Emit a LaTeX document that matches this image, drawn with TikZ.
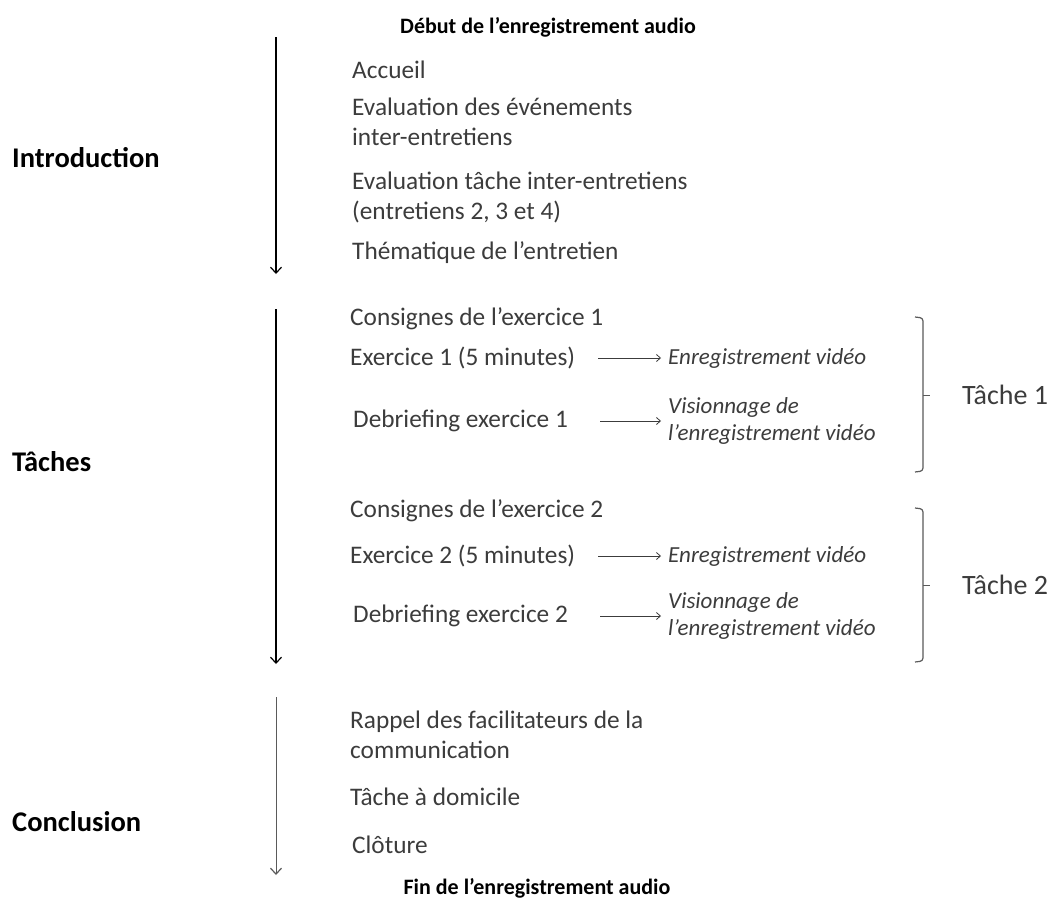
\documentclass[tikz,border=0pt]{standalone}
\usepackage{fontspec}
\setmainfont{Carlito}
\usetikzlibrary{arrows.meta}
\definecolor{txt}{RGB}{60,60,60}
\definecolor{brk}{RGB}{90,90,90}
\begin{document}
\begin{tikzpicture}[x=1pt,y=-1pt,
  body/.style={anchor=west,inner sep=0pt,text=txt,align=left,font=\fontsize{25.3}{30}\selectfont},
  vid/.style={anchor=west,inner sep=0pt,text=txt,align=left,font=\fontsize{23}{27}\selectfont\itshape},
  section/.style={anchor=west,inner sep=0pt,text=black,font=\fontsize{28.5}{32}\selectfont\bfseries},
  audio/.style={inner sep=0pt,text=black,font=\fontsize{22}{26}\selectfont\bfseries},
  tache/.style={anchor=west,inner sep=0pt,text=txt,font=\fontsize{28}{32}\selectfont},
  timeline/.style={line width=1.4pt,draw=black,-{Straight Barb[length=6pt,width=11pt,line width=1.2pt]}},
  harrow/.style={line width=0.9pt,draw=txt,-{Straight Barb[length=4pt,width=7pt,line width=0.8pt]}},
  bracket/.style={line width=1.2pt,draw=brk,rounded corners=3pt}]
\useasboundingbox[fill=white] (0,0) rectangle (1054,900);

% audio markers
\node[audio] (debut) at (548,27) {Début de l’enregistrement audio};
\node[audio] (fin) at (537,888) {Fin de l’enregistrement audio};

% section labels
\node[section] (intro) at (12,158) {Introduction};
\node[section] (taches) at (12,462) {Tâches};
\node[section] (concl) at (12,822) {Conclusion};

% timeline arrows
\coordinate (a1s) at (276,37);  \coordinate (a1e) at (276,274);
\coordinate (a2s) at (276,309); \coordinate (a2e) at (276,664);
\coordinate (a3s) at (276,697); \coordinate (a3e) at (276,875);
\draw[timeline] (a1s) -- (a1e);
\draw[timeline] (a2s) -- (a2e);
\draw[timeline,line width=1pt,draw=brk] (a3s) -- (a3e);

% introduction items
\node[body] (accueil) at (352,70) {Accueil};
\node[body] (evalev) at (352,122) {Evaluation des événements\\inter-entretiens};
\node[body] (evalta) at (352,197) {Evaluation tâche inter-entretiens\\(entretiens 2, 3 et 4)};
\node[body] (theme) at (352,253) {Thématique de l’entretien};

% tasks
\node[body] (cons1) at (350,319) {Consignes de l’exercice 1};
\node[body] (ex1) at (350,358) {Exercice 1 (5 minutes)};
\node[body] (deb1) at (353,421) {Debriefing exercice 1};
\node[vid] (enr1) at (668,358) {Enregistrement vidéo};
\node[vid] (vis1) at (668,421) {Visionnage de\\l’enregistrement vidéo};
\draw[harrow] ([xshift=-70pt]enr1.west) -- ([xshift=-7pt]enr1.west);
\draw[harrow] ([xshift=-68pt]vis1.west) -- ([xshift=-7pt]vis1.west);

\node[body] (cons2) at (350,511) {Consignes de l’exercice 2};
\node[body] (ex2) at (350,556) {Exercice 2 (5 minutes)};
\node[body] (deb2) at (353,616) {Debriefing exercice 2};
\node[vid] (enr2) at (668,556) {Enregistrement vidéo};
\node[vid] (vis2) at (668,616) {Visionnage de\\l’enregistrement vidéo};
\draw[harrow] ([xshift=-70pt]enr2.west) -- ([xshift=-7pt]enr2.west);
\draw[harrow] ([xshift=-68pt]vis2.west) -- ([xshift=-7pt]vis2.west);

% brackets
\draw[bracket] (915,317) -- (923,318) -- (923,471) -- (915,472);
\draw[line width=1pt,draw=brk] (923,395) -- (930,395);
\node[tache] (t1) at (962,395) {Tâche 1};
\draw[bracket] (915,508) -- (923,509) -- (923,661) -- (915,662);
\draw[line width=1pt,draw=brk] (923,585) -- (930,585);
\node[tache] (t2) at (962,585) {Tâche 2};

% conclusion items
\node[body] (rappel) at (350,735) {Rappel des facilitateurs de la\\communication};
\node[body] (domicile) at (350,797) {Tâche à domicile};
\node[body] (cloture) at (352,845) {Clôture};
\end{tikzpicture}
\end{document}
